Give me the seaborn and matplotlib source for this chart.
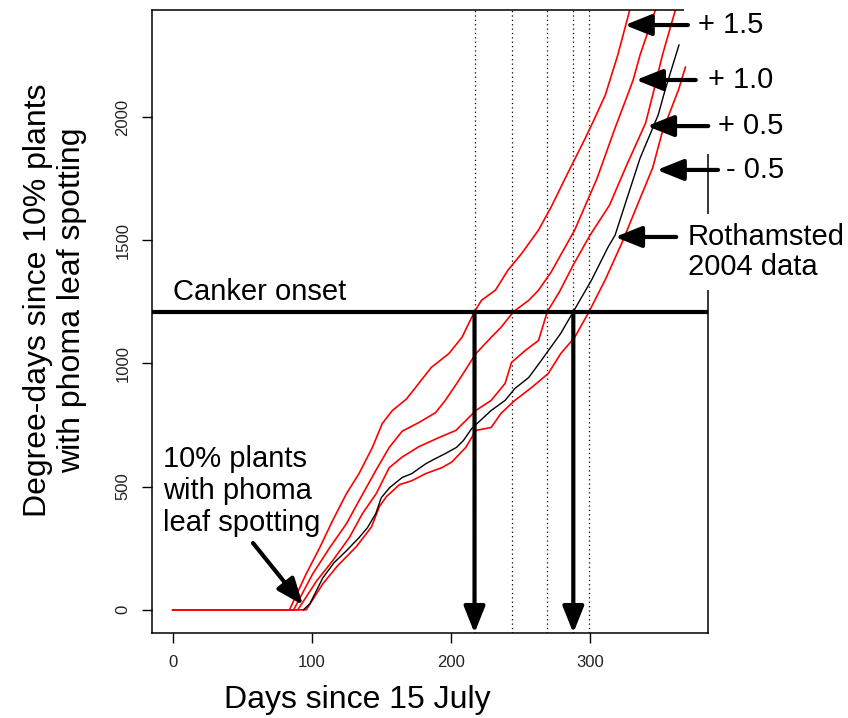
import numpy as np
import pandas as pd
import matplotlib
matplotlib.use("Agg")
import matplotlib.pyplot as plt
import seaborn as sns

# degree-day curves (day since 15 July, degree-days)
days_p15 = [0, 84, 96, 105.7, 115, 125, 134, 143.6, 150.7, 158, 168, 175, 186, 198.6, 208, 217,
            222, 232, 241, 251, 263, 272, 284, 296, 303, 311, 320, 328.6]
dd_p15 = [0, 0, 146, 252, 362, 472, 553, 659, 756, 809, 855, 905, 984, 1040, 1106, 1210,
          1256, 1297, 1378, 1447, 1541, 1634, 1772, 1907, 1990, 2089, 2252, 2435]

days_p10 = [0, 87, 100.7, 112.9, 125, 134, 146, 155.7, 165, 177, 189, 196, 205.7, 218, 229, 236,
            245, 256, 263, 272, 289, 305, 318, 327, 331, 336, 347]
dd_p10 = [0, 0, 146, 252, 350, 443, 565, 659, 725, 760, 800, 850, 931, 1040, 1106, 1146,
          1210, 1256, 1297, 1370, 1541, 1750, 1955, 2089, 2150, 2252, 2435]

days_p05 = [0, 90, 103.6, 115, 127, 136.4, 146.4, 155.7, 165, 177, 191.4, 203.6, 218, 229, 239,
            243.6, 253.6, 263, 269.3, 278, 288, 300, 314, 326, 340, 346, 352, 361.4]
dd_p05 = [0, 0, 118, 199, 293, 390, 472, 577, 620, 662, 699, 728, 809, 850, 919,
          1004, 1053, 1093, 1210, 1290, 1400, 1520, 1642, 1800, 1976, 2110, 2250, 2435]

days_m05 = [0, 96, 108, 118.6, 132, 143, 148.6, 153.6, 163, 172, 182, 193.6, 200.7, 210.7, 218,
            229, 236, 246, 258, 270, 279, 289, 299.3, 311, 323, 334, 345, 352, 363.6, 368.6]
dd_m05 = [0, 0, 106, 179, 256, 337, 419, 459, 508, 524, 553, 577, 600, 659, 728,
          740, 797, 850, 902, 959, 1040, 1106, 1210, 1340, 1490, 1642, 1793, 1940, 2110, 2203]

# Rothamsted 2004 data
days_obs = [94, 98.6, 108, 116, 125, 134, 140, 146, 150, 156, 165, 172, 182, 189, 196, 204, 209,
            215, 229, 239, 246, 256, 265, 279, 288, 301, 313, 318, 325, 336, 349, 354, 364]
dd_obs = [0, 24, 130, 191, 240, 293, 333, 390, 455, 496, 537, 553, 593, 614, 634, 659, 687,
          736, 809, 850, 898, 943, 1012, 1122, 1210, 1337, 1472, 1520, 1642, 1833, 2008, 2110, 2293]

canker_dd = 1210
onset_days = [217, 244, 269, 288, 299]   # where each curve meets canker onset
arrow_days = [217, 288]

# label text, arrow tip (day, dd), arrow tail day
offset_labels = ["+ 1.5", "+ 1.0", "+ 0.5", "- 0.5"]
label_dd = [2373, 2150, 1963, 1785]
tip_days = [325, 333, 341, 348]
tail_days = [370.4, 376, 385, 392]
text_days = [377.6, 384.8, 392, 397.8]

sns.set_theme(style="white")
plt.rcParams["font.family"] = ["Liberation Sans", "DejaVu Sans"]
plt.rcParams["text.color"] = "black"

fig = plt.figure(figsize=(8.48, 7.18), dpi=100)
ax = fig.add_axes([152 / 848, 85 / 718, 556 / 848, 623 / 718])

for d in onset_days:
    ax.axvline(d, color="black", lw=0.9, ls=(0, (1, 2.5)), zorder=1)

curves = [(days_p15, dd_p15), (days_p10, dd_p10), (days_p05, dd_p05), (days_m05, dd_m05)]
for dx, dy in curves:
    sns.lineplot(x=dx, y=dy, color="red", lw=1.2, estimator=None, sort=False, ax=ax, zorder=2)
sns.lineplot(x=days_obs, y=dd_obs, color="black", lw=1.0, estimator=None, sort=False, ax=ax, zorder=2)

ax.axhline(canker_dd, color="black", lw=3, zorder=3)

ax.set_xlim(-14.8, 384.8)
ax.set_ylim(-94, 2434)
ax.set_xticks([0, 100, 200, 300])
ax.set_yticks([0, 500, 1000, 1500, 2000])
ax.tick_params(axis="both", direction="out", length=7.5, width=1, pad=8,
               labelsize=12, labelcolor="#222222", color="black", bottom=True, left=True)
ax.tick_params(axis="y", labelrotation=90)
plt.setp(ax.get_yticklabels(), va="center")
for sp in ax.spines.values():
    sp.set_color("black")
    sp.set_linewidth(1.1)
ax.set_xlabel("")
ax.set_ylabel("")

arrow_style = dict(arrowstyle="-|>,head_length=0.7,head_width=0.28", lw=3,
                   color="black", mutation_scale=23, shrinkA=0, shrinkB=0)

for d in arrow_days:
    ax.annotate("", xy=(d, -94), xytext=(d, canker_dd), arrowprops=arrow_style, zorder=5)

for lab, ydd, tip, tail, tx in zip(offset_labels, label_dd, tip_days, tail_days, text_days):
    ax.text(tx, ydd, lab, fontsize=21, ha="left", va="center", clip_on=False, zorder=4,
            bbox=dict(fc="white", ec="none", pad=10))
    ax.annotate("", xy=(tip, ydd), xytext=(tail, ydd), arrowprops=arrow_style,
                annotation_clip=False, zorder=5)

ax.text(370.4, 1452, "Rothamsted\n2004 data", fontsize=21, ha="left", va="center",
        linespacing=1.1, clip_on=False, zorder=4, bbox=dict(fc="white", ec="none", pad=6))
ax.annotate("", xy=(318, 1513), xytext=(362, 1513), arrowprops=arrow_style,
            annotation_clip=False, zorder=5)

ax.text(0.3, 1290, "Canker onset", fontsize=21, ha="left", va="center", zorder=4)

ax.text(-6.9, 482, "10% plants\nwith phoma\nleaf spotting", fontsize=21, ha="left",
        va="center", linespacing=1.2, zorder=4)
ax.annotate("", xy=(93.7, 19.5), xytext=(57.8, 271), arrowprops=arrow_style, zorder=5)

fig.text(357 / 848, 1 - 700 / 718, "Days since 15 July", fontsize=23, ha="center", va="center")
fig.text(55 / 848, 1 - 300 / 718, "Degree-days since 10% plants\nwith phoma leaf spotting",
         fontsize=23, rotation=90, ha="center", va="center", multialignment="center",
         linespacing=1.15)

fig.savefig("out.png", dpi=100)
